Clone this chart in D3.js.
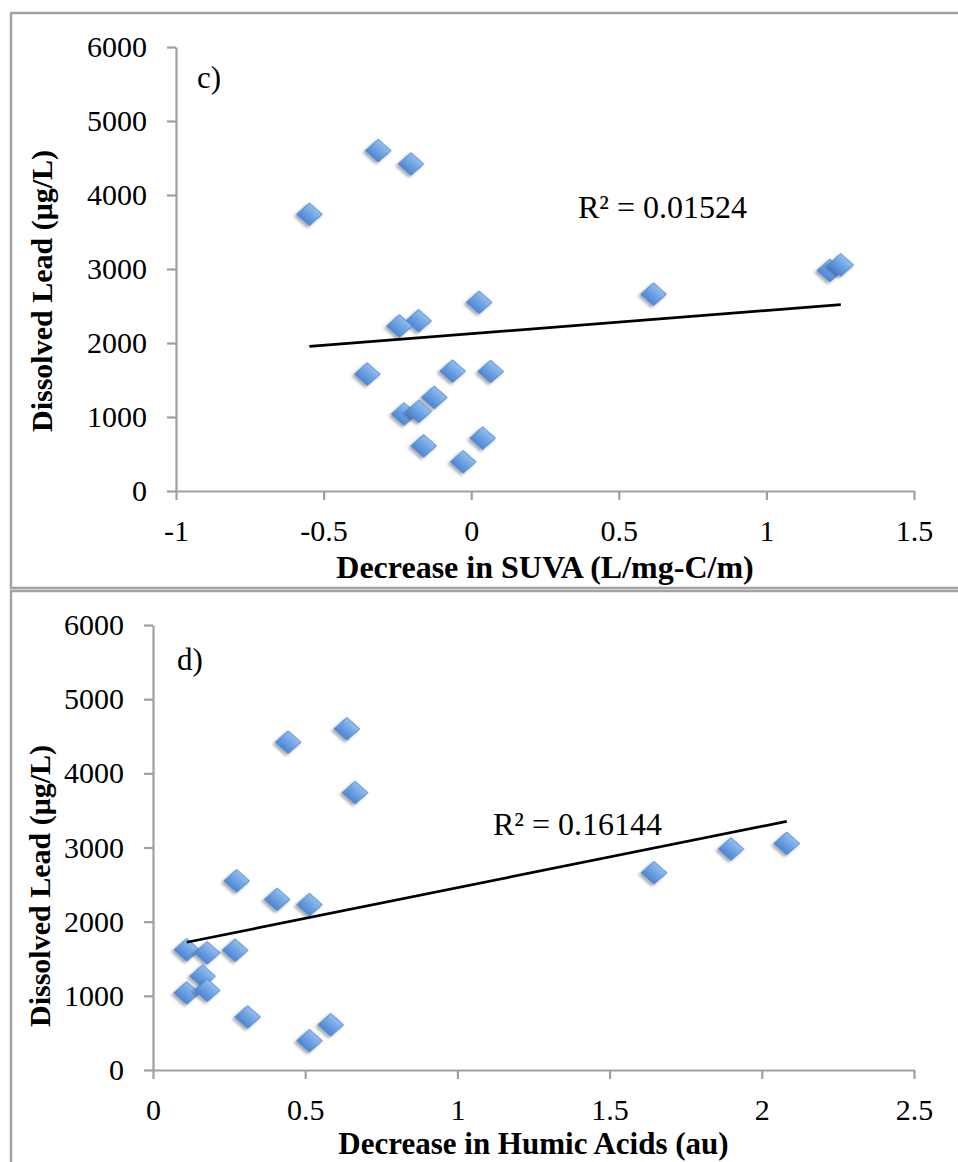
<!DOCTYPE html>
<html>
<head>
<meta charset="utf-8">
<script src="https://cdn.jsdelivr.net/npm/d3@7"></script>
<style>
  html, body { margin: 0; padding: 0; background: #fff; }
  svg { display: block; }
  text { font-family: "Liberation Serif", "Times New Roman", serif; fill: #000; }
</style>
</head>
<body>
<svg id="chart" width="958" height="1162"></svg>
<script>
// Dissolved lead measured in each sample (µg/L), shared by both panels
const dissolvedLead = [4600, 4420, 3740, 2550, 2300, 2230, 1620, 1580, 1615, 1265, 1040, 1075, 715, 395, 610, 2660, 2980, 3055];
// Decrease in SUVA (L/mg-C/m) for the same samples
const suvaDecrease = [-0.315, -0.204, -0.548, 0.027, -0.178, -0.243, -0.063, -0.352, 0.066, -0.125, -0.227, -0.178, 0.039, -0.027, -0.161, 0.618, 1.215, 1.252];
// Decrease in humic acids (au) for the same samples
const humicDecrease = [0.637, 0.444, 0.664, 0.275, 0.408, 0.514, 0.111, 0.178, 0.270, 0.163, 0.111, 0.178, 0.311, 0.514, 0.584, 1.646, 1.899, 2.082];

const leadTicks = [0, 1000, 2000, 3000, 4000, 5000, 6000];
const suvaTicks = [-1, -0.5, 0, 0.5, 1, 1.5];
const humicTicks = [0, 0.5, 1, 1.5, 2, 2.5];

const panelLabels = ["c)", "d)"];
const r2Labels = ["R² = 0.01524", "R² = 0.16144"];
const xTitles = ["Decrease in SUVA (L/mg-C/m)", "Decrease in Humic Acids (au)"];
const yTitle = "Dissolved Lead (μg/L)";

const svg = d3.select("#chart");
const defs = svg.append("defs");

const grad = defs.append("linearGradient")
  .attr("id", "markerFill").attr("x1", 0).attr("y1", 0).attr("x2", 0).attr("y2", 1);
grad.append("stop").attr("offset", "0%").attr("stop-color", "#93bdf0");
grad.append("stop").attr("offset", "55%").attr("stop-color", "#6a9fe0");
grad.append("stop").attr("offset", "100%").attr("stop-color", "#4c86d2");

const shadow = defs.append("filter").attr("id", "markerShadow")
  .attr("x", "-50%").attr("y", "-50%").attr("width", "200%").attr("height", "200%");
shadow.append("feDropShadow").attr("dx", 0).attr("dy", 3).attr("stdDeviation", 1.6)
  .attr("flood-color", "#000").attr("flood-opacity", 0.35);

const frameColor = "#a3a3a3";
const axisColor = "#a0a0a0";

// Outer frames of the two panels
svg.append("rect").attr("x", 11).attr("y", 13).attr("width", 1000).attr("height", 575)
  .attr("fill", "none").attr("stroke", frameColor).attr("stroke-width", 2.5);
svg.append("rect").attr("x", 11).attr("y", 591).attr("width", 1000).attr("height", 700)
  .attr("fill", "none").attr("stroke", frameColor).attr("stroke-width", 2.5);

function linearFit(xs, ys) {
  const mx = d3.mean(xs), my = d3.mean(ys);
  let sxy = 0, sxx = 0;
  xs.forEach((x, i) => { sxy += (x - mx) * (ys[i] - my); sxx += (x - mx) * (x - mx); });
  const slope = sxy / sxx;
  return { slope, intercept: my - slope * mx };
}

function drawPanel(cfg) {
  const x = d3.scaleLinear().domain(cfg.xDomain).range(cfg.xRange);
  const y = d3.scaleLinear().domain([0, 6000]).range(cfg.yRange);
  const g = svg.append("g");

  // y axis
  const yAxis = g.append("g").attr("transform", `translate(${cfg.xRange[0]},0)`)
    .call(d3.axisLeft(y).tickValues(leadTicks).tickSize(9).tickPadding(20).tickSizeOuter(0)
      .tickFormat(d3.format("d")));
  // x axis
  const xAxis = g.append("g").attr("transform", `translate(0,${cfg.yRange[0]})`)
    .call(d3.axisBottom(x).tickValues(cfg.xTicks).tickSize(9).tickPadding(17).tickSizeOuter(0)
      .tickFormat(d => (d < 0 ? "-" : "") + Math.abs(d)));

  [yAxis, xAxis].forEach(a => {
    a.select(".domain").attr("stroke", axisColor).attr("stroke-width", 2.2);
    a.selectAll(".tick line").attr("stroke", axisColor).attr("stroke-width", 2.2);
    a.selectAll(".tick text").attr("font-size", 30)
      .attr("font-family", "Liberation Serif, serif").attr("fill", "#000");
  });
  xAxis.selectAll(".tick text").attr("dy", "0.8em");

  // points
  const sq = d3.symbol().type(d3.symbolSquare).size(300);
  g.append("g").selectAll("path").data(cfg.xs).join("path")
    .attr("d", sq)
    .attr("transform", (d, i) => `translate(${x(d)},${y(dissolvedLead[i])}) scale(1.05,0.93) rotate(45)`)
    .attr("fill", "url(#markerFill)")
    .attr("stroke", "#4a82cc").attr("stroke-width", 0.8)
    .attr("filter", "url(#markerShadow)");

  // linear trend line across the data range
  const fit = linearFit(cfg.xs, dissolvedLead);
  const [xmin, xmax] = d3.extent(cfg.xs);
  g.append("line")
    .attr("x1", x(xmin)).attr("y1", y(fit.intercept + fit.slope * xmin))
    .attr("x2", x(xmax)).attr("y2", y(fit.intercept + fit.slope * xmax))
    .attr("stroke", "#000").attr("stroke-width", 2.7);

  // annotations
  g.append("text").attr("x", cfg.labelPos[0]).attr("y", cfg.labelPos[1])
    .attr("font-size", 31).text(cfg.panelLabel);
  g.append("text").attr("x", cfg.r2Pos[0]).attr("y", cfg.r2Pos[1])
    .attr("font-size", 32).text(cfg.r2);

  // axis titles
  g.append("text").attr("x", (cfg.xRange[0] + cfg.xRange[1]) / 2).attr("y", cfg.xTitleY)
    .attr("text-anchor", "middle").attr("font-size", cfg.xTitleSize).attr("font-weight", "bold")
    .text(cfg.xTitle);
  g.append("text")
    .attr("transform", `translate(${cfg.yTitlePos[0]},${cfg.yTitlePos[1]}) rotate(-90)`)
    .attr("text-anchor", "middle").attr("font-size", 30).attr("font-weight", "bold")
    .text(yTitle);
}

drawPanel({
  xs: suvaDecrease, xDomain: [-1, 1.5], xRange: [176, 914], yRange: [491, 47],
  xTicks: suvaTicks, panelLabel: panelLabels[0], labelPos: [197, 88],
  r2: r2Labels[0], r2Pos: [578, 218], xTitle: xTitles[0], xTitleY: 578, xTitleSize: 32,
  yTitlePos: [52, 291]
});
drawPanel({
  xs: humicDecrease, xDomain: [0, 2.5], xRange: [153, 914], yRange: [1070, 625],
  xTicks: humicTicks, panelLabel: panelLabels[1], labelPos: [177, 670],
  r2: r2Labels[1], r2Pos: [493, 835], xTitle: xTitles[1], xTitleY: 1154, xTitleSize: 31,
  yTitlePos: [50, 886]
});
</script>
</body>
</html>
